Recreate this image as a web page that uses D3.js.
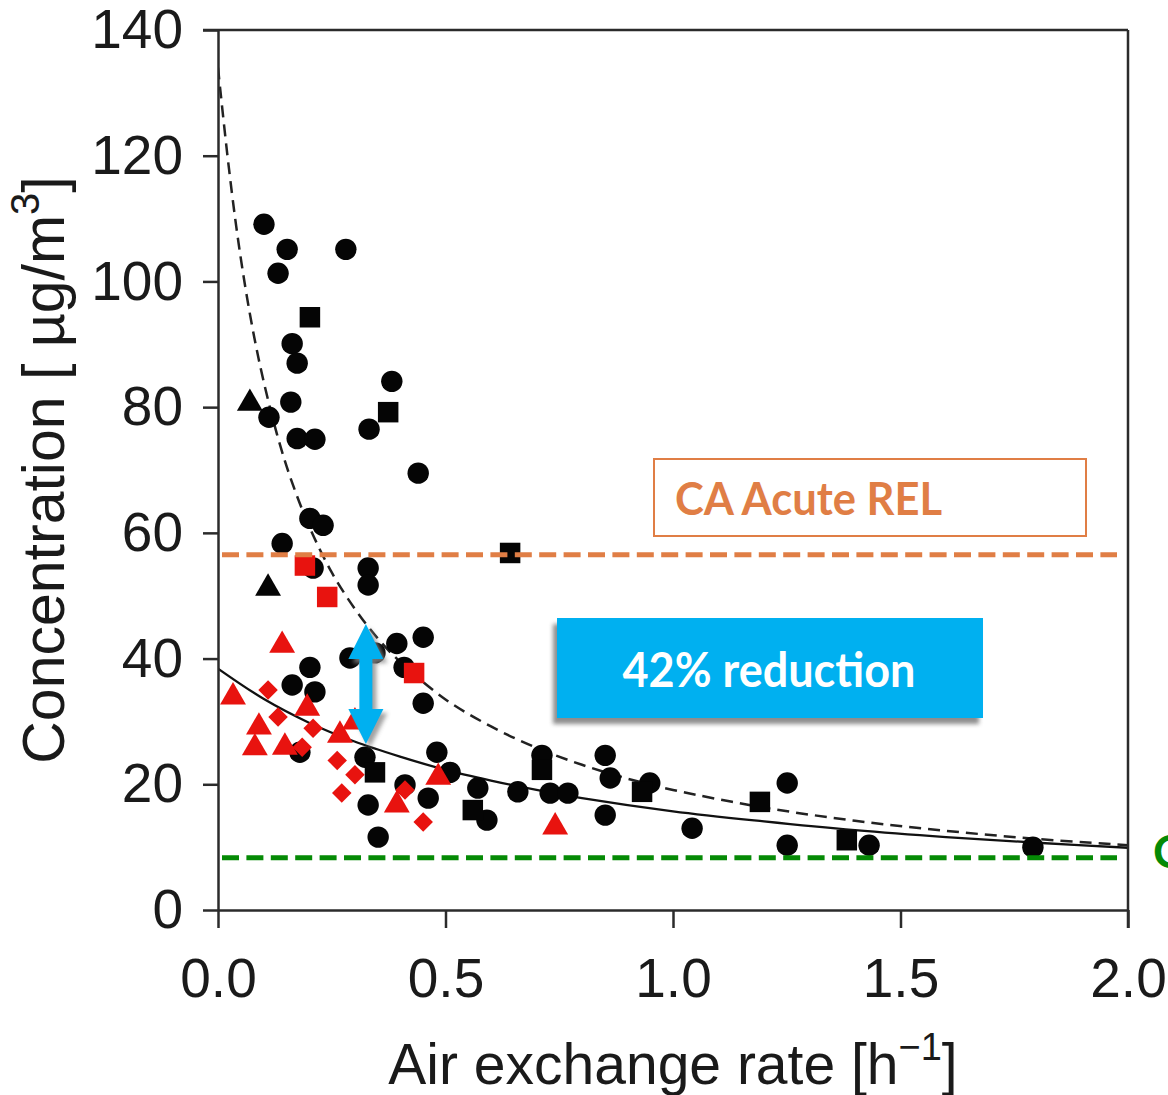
<!DOCTYPE html>
<html>
<head>
<meta charset="utf-8">
<script src="https://cdn.jsdelivr.net/npm/d3@7"></script>
<style>
  html, body { margin: 0; padding: 0; background: #fff; }
  svg { display: block; }
</style>
</head>
<body>
<svg id="chart" width="1168" height="1095"></svg>
<script>
// ---- data -------------------------------------------------------------
const xTicks = [0, 0.5, 1.0, 1.5, 2.0];
const yTicks = [0, 20, 40, 60, 80, 100, 120, 140];

// [air exchange rate (1/h), concentration (µg/m3)]
const blackCircles = [
  [0.101, 109.1], [0.152, 105.1], [0.281, 105.1], [0.132, 101.3], [0.163, 90.1],
  [0.174, 87.0], [0.382, 84.1], [0.160, 80.8], [0.112, 78.4], [0.332, 76.5],
  [0.174, 75.0], [0.213, 74.9], [0.440, 69.5], [0.202, 62.3], [0.231, 61.2],
  [0.141, 58.3], [0.209, 54.4], [0.330, 54.4], [0.330, 51.7], [0.290, 40.1],
  [0.345, 40.9], [0.393, 42.4], [0.451, 43.4], [0.409, 38.6], [0.451, 32.9],
  [0.202, 38.6], [0.163, 35.8], [0.213, 34.7], [0.180, 25.1], [0.323, 24.3],
  [0.330, 16.7], [0.352, 11.6], [0.411, 19.9], [0.462, 17.8], [0.481, 25.1],
  [0.510, 21.9], [0.571, 19.4], [0.591, 14.3], [0.659, 18.8], [0.712, 24.6],
  [0.730, 18.6], [0.769, 18.6], [0.851, 24.6], [0.862, 21.0], [0.851, 15.1],
  [0.949, 20.2], [1.042, 13.0], [1.251, 20.2], [1.251, 10.3], [1.431, 10.3],
  [1.791, 10.0]
];
const blackSquares = [
  [0.202, 94.3], [0.374, 79.2], [0.642, 56.8], [0.345, 21.9], [0.560, 15.9],
  [0.712, 22.3], [0.932, 18.8], [1.191, 17.2], [1.382, 11.1]
];
const blackTriangles = [
  [0.070, 80.6], [0.110, 51.2]
];
const redTriangles = [
  [0.141, 42.1], [0.033, 33.9], [0.196, 32.1], [0.090, 29.1], [0.081, 25.8],
  [0.147, 25.9], [0.268, 27.8], [0.301, 29.9], [0.393, 16.7], [0.484, 21.1],
  [0.741, 13.2]
];
const redSquares = [
  [0.191, 54.8], [0.240, 49.8], [0.431, 37.7]
];
const redDiamonds = [
  [0.110, 35.0], [0.132, 30.7], [0.209, 28.9], [0.185, 25.9], [0.262, 23.8],
  [0.301, 21.5], [0.272, 18.6], [0.411, 19.1], [0.451, 14.0]
];

// fitted decay curves, sampled along the rate axis
const dashedFit = [
  [0, 134], [0.02, 120.5], [0.04, 108.8], [0.06, 99.1], [0.08, 91.0], [0.10, 84.2],
  [0.13, 75.6], [0.16, 68.6], [0.20, 61.1], [0.25, 53.7], [0.30, 48.0], [0.35, 43.3],
  [0.40, 39.5], [0.50, 33.5], [0.60, 29.2], [0.70, 25.8], [0.80, 23.1], [0.90, 20.9],
  [1.00, 19.1], [1.20, 16.3], [1.40, 14.2], [1.60, 12.6], [1.80, 11.3], [2.00, 10.3]
];
const solidFit = [
  [0, 38.4], [0.10, 33.6], [0.20, 29.8], [0.30, 26.8], [0.40, 24.4], [0.50, 22.3],
  [0.60, 20.6], [0.70, 19.1], [0.80, 17.8], [1.00, 15.7], [1.20, 14.1], [1.40, 12.7],
  [1.60, 11.6], [1.80, 10.7], [2.00, 9.9]
];

// reference levels (µg/m3)
const acuteREL = 56.5;
const chronicREL = 8.3;

// reduction arrow
const arrowRate = 0.325;
const arrowHigh = 45.5;
const reductionPct = 42;
const arrowLow = arrowHigh * (1 - reductionPct / 100);

// ---- drawing ----------------------------------------------------------
const svg = d3.select('#chart');
const W = 1168, H = 1095;
svg.append('rect').attr('width', W).attr('height', H).attr('fill', '#fff');

const x = d3.scaleLinear().domain([0, 2]).range([218, 1128]);
const y = d3.scaleLinear().domain([0, 140]).range([910, 30]);

const axisColor = '#2b2b2b';
const tickFont = '"Liberation Sans", Arial, sans-serif';
const noteFont = 'Lato, "Open Sans", sans-serif';

const defs = svg.append('defs');
defs.append('filter').attr('id', 'soft').attr('x', '-20%').attr('y', '-20%')
  .attr('width', '140%').attr('height', '140%')
  .append('feGaussianBlur').attr('stdDeviation', 2.2);
const plotClip = defs.append('clipPath').attr('id', 'plotClip');
plotClip.append('rect').attr('x', 218).attr('y', 30).attr('width', 910).attr('height', 880);

// fitted curves
const line = d3.line().x(d => x(d[0])).y(d => y(d[1])).curve(d3.curveCatmullRom.alpha(0.5));
const curves = svg.append('g').attr('clip-path', 'url(#plotClip)');
curves.append('path').datum(dashedFit).attr('d', line)
  .attr('fill', 'none').attr('stroke', '#222').attr('stroke-width', 2.5)
  .attr('stroke-dasharray', '12 7');
curves.append('path').datum(solidFit).attr('d', line)
  .attr('fill', 'none').attr('stroke', '#111').attr('stroke-width', 2.3);

// point markers
const red = '#e8130f';
function drawMarks(data, type, size, fill, rotate) {
  const sym = d3.symbol().type(type).size(size);
  svg.append('g').selectAll('path').data(data).join('path')
    .attr('d', sym)
    .attr('transform', d => `translate(${x(d[0])},${y(d[1])})` + (rotate ? ` rotate(${rotate})` : ''))
    .attr('fill', fill);
}
drawMarks(blackCircles, d3.symbolCircle, 360, '#050505');
drawMarks(blackSquares, d3.symbolSquare, 420, '#050505');
drawMarks(blackTriangles, d3.symbolTriangle, 290, '#050505');
drawMarks(redTriangles, d3.symbolTriangle, 290, red);
drawMarks(redSquares, d3.symbolSquare, 420, red);
drawMarks(redDiamonds, d3.symbolSquare, 190, red, 45);

// reference levels
svg.append('line')
  .attr('x1', x(0) + 4).attr('x2', 1117)
  .attr('y1', y(acuteREL)).attr('y2', y(acuteREL))
  .attr('stroke', '#e07e45').attr('stroke-width', 5)
  .attr('stroke-dasharray', '17 7.4');
svg.append('line')
  .attr('x1', x(0) + 4).attr('x2', 1117)
  .attr('y1', y(chronicREL)).attr('y2', y(chronicREL))
  .attr('stroke', '#058a05').attr('stroke-width', 5)
  .attr('stroke-dasharray', '17 7.4');

// axes
const gx = svg.append('g').attr('transform', 'translate(0,910)')
  .call(d3.axisBottom(x).tickValues(xTicks).tickFormat(d3.format('.1f'))
    .tickSize(18).tickPadding(30).tickSizeOuter(0));
const gy = svg.append('g').attr('transform', 'translate(218,0)')
  .call(d3.axisLeft(y).tickValues(yTicks).tickFormat(d3.format('d'))
    .tickSize(15).tickPadding(20).tickSizeOuter(0));
[gx, gy].forEach(g => {
  g.select('.domain').attr('stroke', axisColor).attr('stroke-width', 2.5);
  g.selectAll('.tick line').attr('stroke', axisColor).attr('stroke-width', 2.5);
  g.selectAll('.tick text').attr('fill', '#1a1a1a')
    .style('font-family', tickFont).style('font-size', '55px');
});

// frame: top and right
svg.append('line').attr('x1', 203).attr('x2', x(2)).attr('y1', y(140)).attr('y2', y(140))
  .attr('stroke', axisColor).attr('stroke-width', 2.5);
svg.append('line').attr('x1', x(2)).attr('x2', x(2)).attr('y1', y(140)).attr('y2', 928)
  .attr('stroke', axisColor).attr('stroke-width', 2.5);

// axis titles
const xt = svg.append('text')
  .attr('x', (x(0) + x(2)) / 2).attr('y', 1084)
  .attr('text-anchor', 'middle').attr('fill', '#1a1a1a')
  .style('font-family', tickFont).style('font-size', '57px');
xt.append('tspan').text('Air exchange rate [h');
xt.append('tspan').attr('dy', -24).style('font-size', '38px').text('\u22121');
xt.append('tspan').attr('dy', 24).text(']');

const yt = svg.append('text')
  .attr('transform', `translate(64,${(y(0) + y(140)) / 2}) rotate(-90)`)
  .attr('text-anchor', 'middle').attr('fill', '#1a1a1a')
  .style('font-family', tickFont).style('font-size', '59px');
yt.append('tspan').text('Concentration [ \u00b5g/m');
yt.append('tspan').attr('dy', -25).style('font-size', '40px').text('3');
yt.append('tspan').attr('dy', 25).text(']');

// acute REL label
svg.append('rect').attr('x', 654).attr('y', 459).attr('width', 432).attr('height', 77)
  .attr('fill', '#fff').attr('stroke', '#e07e45').attr('stroke-width', 2);
svg.append('text').attr('x', 675).attr('y', 515)
  .attr('textLength', 267).attr('lengthAdjust', 'spacingAndGlyphs')
  .attr('fill', '#e07e45')
  .style('font-family', noteFont).style('font-weight', 700).style('font-size', '46px')
  .text('CA Acute REL');

// chronic REL label (runs off the right edge)
svg.append('text').attr('x', 1153).attr('y', 868)
  .attr('fill', '#058a05')
  .style('font-family', noteFont).style('font-weight', 700).style('font-size', '46px')
  .text('CA Chronic REL');

// reduction box
svg.append('rect').attr('x', 553).attr('y', 624).attr('width', 426).attr('height', 100)
  .attr('fill', '#7a7a7a').attr('opacity', 0.85).attr('filter', 'url(#soft)');
svg.append('rect').attr('x', 557).attr('y', 618).attr('width', 426).attr('height', 100)
  .attr('fill', '#00b0f0');
svg.append('text').attr('x', 769).attr('y', 687)
  .attr('text-anchor', 'middle')
  .attr('textLength', 293).attr('lengthAdjust', 'spacingAndGlyphs')
  .attr('fill', '#fff')
  .style('font-family', noteFont).style('font-weight', 700).style('font-size', '47px')
  .text(reductionPct + '% reduction');

// double-headed arrow between the two curves
function arrowPath(ax, yTop, yBot) {
  const hw = 17.5, sw = 6.5, hl = 35;
  return `M${ax},${yTop} L${ax + hw},${yTop + hl} L${ax + sw},${yTop + hl} ` +
    `L${ax + sw},${yBot - hl} L${ax + hw},${yBot - hl} L${ax},${yBot} ` +
    `L${ax - hw},${yBot - hl} L${ax - sw},${yBot - hl} L${ax - sw},${yTop + hl} ` +
    `L${ax - hw},${yTop + hl} Z`;
}
const ax = x(arrowRate);
svg.append('path').attr('d', arrowPath(ax, y(arrowHigh), y(arrowLow)))
  .attr('transform', 'translate(4,4)')
  .attr('fill', '#8a8a8a').attr('opacity', 0.8).attr('filter', 'url(#soft)');
svg.append('path').attr('d', arrowPath(ax, y(arrowHigh), y(arrowLow)))
  .attr('fill', '#00b0f0');
</script>
</body>
</html>
